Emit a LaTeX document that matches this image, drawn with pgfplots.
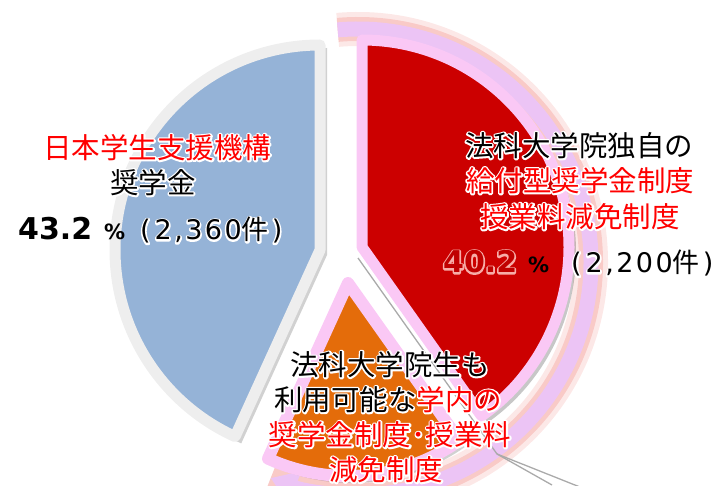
\documentclass[border=0pt]{standalone}
\usepackage{pgfplots}
\pgfplotsset{compat=1.18}
\usepackage{pgfplotstable}
\usetikzlibrary{arrows.meta}
\usepackage{fontspec}
\setmainfont{Noto Sans CJK JP}
\newfontfamily\dvs{DejaVu Sans}
\newfontfamily\dvsw{DejaVu Sans}[LetterSpace=9]
\definecolor{jblue}{RGB}{149,179,215}
\definecolor{jred}{RGB}{204,0,0}
\definecolor{jorange}{RGB}{228,108,10}
\definecolor{pinkb}{RGB}{250,200,245}
\definecolor{ringc}{RGB}{236,196,245}
\definecolor{glowc}{RGB}{245,165,160}
\definecolor{bordg}{RGB}{238,238,238}
\definecolor{labred}{RGB}{255,0,0}
\definecolor{darkred}{RGB}{192,0,0}
\definecolor{leader}{RGB}{170,170,170}

\pgfplotstableread{
idx value
0 43.2
1 40.2
2 16.6
}\piedata

\newcommand{\cj}{\fontsize{28.5}{34}\selectfont}
% halo: a stroked copy under the filled text (colour changes ignored in the copy)
\newcommand{\halo}[2][1 1 1]{\rlap{\renewcommand{\textcolor}[2]{##2}\special{pdf:literal direct 1 Tr 3.2 w 1 j #1 RG}#2\special{pdf:literal direct 0 Tr 0.4 w 0 j 0 0 0 RG}}#2}
\begin{document}
\begin{tikzpicture}
\pgfplotstablegetelem{0}{value}\of\piedata \pgfmathsetmacro\va{\pgfplotsretval}
\pgfplotstablegetelem{1}{value}\of\piedata \pgfmathsetmacro\vb{\pgfplotsretval}
\pgfplotstablegetelem{2}{value}\of\piedata \pgfmathsetmacro\vc{\pgfplotsretval}
\pgfmathsetmacro\bEnd{90+3.6*\va}
\pgfmathsetmacro\rEnd{90-3.6*\vb}
\pgfmathsetmacro\oEnd{\bEnd+3.6*\vc}
\begin{axis}[at={(0pt,0pt)}, anchor=south west, scale only axis,
  width=722pt, height=485pt, xmin=0, xmax=722, ymin=0, ymax=485,
  hide axis, clip=true]
% outer ring with glow
\draw[glowc, opacity=0.25, line width=34pt] (axis cs:358,223) ++(95:233pt) arc[start angle=95, end angle=-112, radius=233pt];
\draw[glowc, opacity=0.45, line width=24pt] (axis cs:358,223) ++(95:233pt) arc[start angle=95, end angle=-112, radius=233pt];
\draw[ringc, line width=15pt, -{Triangle[width=34pt,length=26pt]}] (axis cs:358,223) ++(95:233pt) arc[start angle=95, end angle=-112, radius=233pt];
% shadows
\fill[black, opacity=0.18] (axis cs:327,230) -- ++(90:207pt) arc[start angle=90, end angle=\bEnd, radius=207pt] -- cycle;
\fill[black, opacity=0.22] (axis cs:367,233) -- ++(90:209pt) arc[start angle=90, end angle=\rEnd, radius=209pt] -- cycle;
\fill[black, opacity=0.18] (axis cs:352,197) -- ++(\bEnd:195pt) arc[start angle=\bEnd, end angle=\oEnd, radius=195pt] -- cycle;
% wedges
\filldraw[fill=jblue, draw=bordg, line width=11pt, line join=round] (axis cs:320,235) -- ++(90:205pt) arc[start angle=90, end angle=\bEnd, radius=205pt] -- cycle;
\filldraw[fill=jred, draw=pinkb, line width=11pt, line join=round] (axis cs:362,238) -- ++(90:207pt) arc[start angle=90, end angle=\rEnd, radius=207pt] -- cycle;
\filldraw[fill=jorange, draw=pinkb, line width=12pt, line join=round] (axis cs:348,202) -- ++(\bEnd:193pt) arc[start angle=\bEnd, end angle=\oEnd, radius=193pt] -- cycle;
% leader lines
\draw[leader, line width=1.3pt] (axis cs:358,227) -- (axis cs:497,31) -- (axis cs:552,0);
\draw[leader, line width=1.3pt] (axis cs:497,31) -- (axis cs:600,-10);
% labels left
\node[anchor=base, inner sep=0pt, text=labred] at (axis cs:157,326.5) {\cj\halo{日本学生支援機構}};
\node[anchor=base, inner sep=0pt] at (axis cs:153,291.5) {\cj\halo{奨学金}};
\node[anchor=base west, inner sep=0pt] at (axis cs:18,245) {\dvs\bfseries\fontsize{30}{30}\selectfont 43.2};
\node[anchor=base west, inner sep=0pt] at (axis cs:104,245) {\dvs\bfseries\fontsize{21}{21}\selectfont \%};
\node[anchor=base west, inner sep=0pt] at (axis cs:140,245) {\fontsize{27}{30}\selectfont\halo{{\dvs(}\hspace{4pt}{\dvsw 2,360}件\hspace{3pt}{\dvs)}}};
% labels red
\node[anchor=base, inner sep=0pt] at (axis cs:579,328.5) {\cj\halo{法科大学院独自の}};
\node[anchor=base, inner sep=0pt, text=labred] at (axis cs:580,293.5) {\cj\halo{給付型奨学金制度}};
\node[anchor=base, inner sep=0pt, text=labred] at (axis cs:580,257.5) {\cj\halo{授業料減免制度}};
\node[anchor=base west, inner sep=0pt, text=darkred] at (axis cs:443,212) {\dvs\bfseries\fontsize{30}{30}\selectfont\halo[0.97 0.68 0.66]{40.2}};
\node[anchor=base west, inner sep=0pt] at (axis cs:528,212) {\dvs\bfseries\fontsize{21}{21}\selectfont \%};
\node[anchor=base west, inner sep=0pt] at (axis cs:571,212) {\fontsize{27}{30}\selectfont\halo{{\dvs(}\hspace{4pt}{\dvsw 2,200}件\hspace{3pt}{\dvs)}}};
% labels orange
\node[anchor=base, inner sep=0pt] at (axis cs:390,109.5) {\cj\halo{法科大学院生も}};
\node[anchor=base, inner sep=0pt] at (axis cs:388,74.5) {\cj\halo{利用可能な\textcolor{labred}{学内の}}};
\node[anchor=base, inner sep=0pt, text=labred] at (axis cs:390,39.5) {\cj\halo{奨学金制度･授業料}};
\node[anchor=base, inner sep=0pt, text=labred] at (axis cs:386,4.5) {\cj\halo{減免制度}};
\end{axis}
\pgfresetboundingbox
\path[use as bounding box] (0,0) rectangle (722pt,485pt);
\end{tikzpicture}
\end{document}
